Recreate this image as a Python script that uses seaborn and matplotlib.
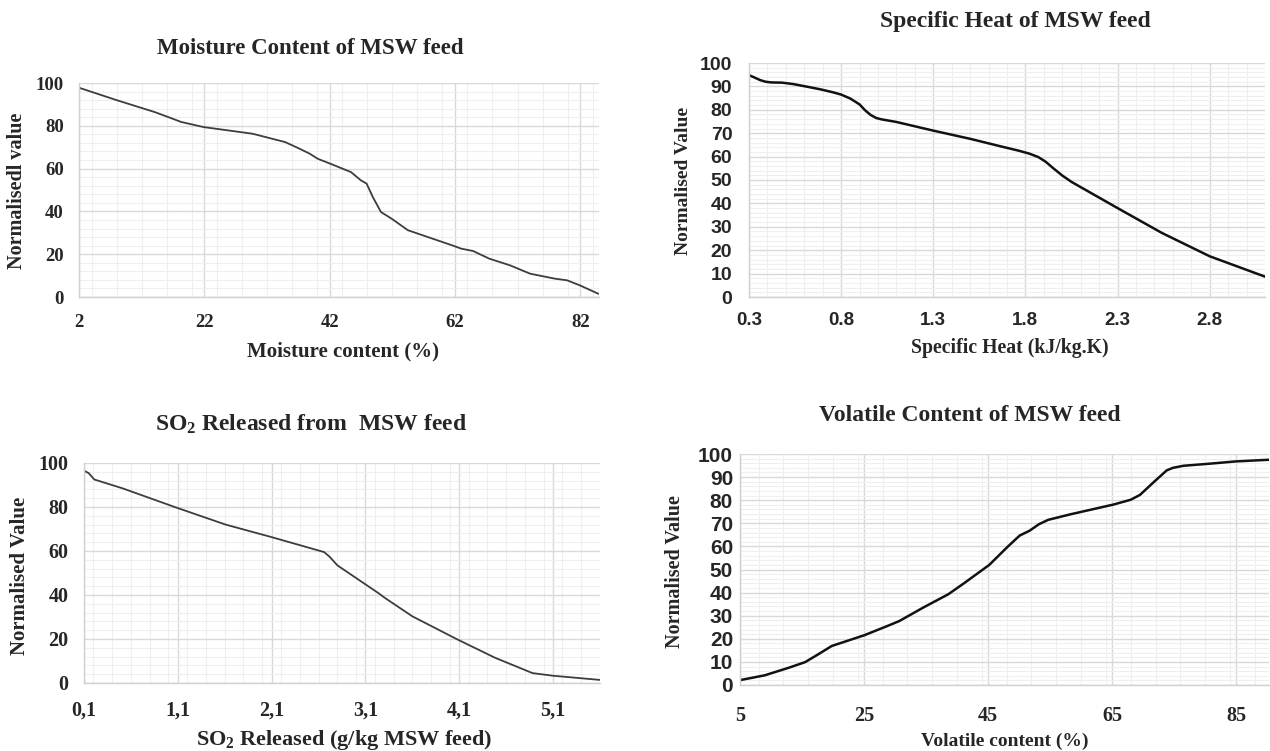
"""
msw_feed_sensitivity.py

Four panels of normalised value against MSW feed properties
(moisture, specific heat, SO2 released, volatile content).
"""

import matplotlib

matplotlib.use("Agg")
import matplotlib.pyplot as plt
import seaborn as sns
from matplotlib.ticker import FixedLocator, MultipleLocator, FuncFormatter

OUTPUT_FILEPATH = "out.png"
FIG_W, FIG_H = 1270, 751

# --- data --------------------------------------------------------------
moisture_x = [2, 8, 14.1, 16.5, 18.3, 21.9, 29.7, 34.9, 37.2, 38.8, 40.1, 42.1,
              45.4, 47.0, 47.9, 48.9, 50.2, 51.9, 54.5, 57.7, 61.6, 63.0, 64.9,
              67.5, 70.8, 74.0, 77.9, 79.9, 81.9, 84.9]
moisture_y = [97.8, 92.0, 86.4, 83.8, 81.8, 79.4, 76.3, 72.4, 69.3, 67.0, 64.6,
              62.3, 58.4, 54.5, 53.0, 46.7, 39.7, 36.6, 31.2, 28.0, 24.1, 22.6,
              21.5, 17.9, 14.8, 10.9, 8.6, 7.8, 5.5, 1.5]

heat_x = [0.30, 0.33, 0.36, 0.39, 0.42, 0.48, 0.54, 0.62, 0.69, 0.76, 0.80,
          0.85, 0.90, 0.93, 0.96, 0.99, 1.02, 1.10, 1.30, 1.50, 1.67, 1.76,
          1.82, 1.87, 1.91, 1.95, 2.00, 2.05, 2.11, 2.30, 2.54, 2.80, 3.10]
heat_y = [94.8, 93.8, 92.7, 92.0, 91.7, 91.6, 91.0, 89.8, 88.7, 87.4, 86.5,
          84.8, 82.3, 79.8, 77.8, 76.5, 75.9, 74.8, 71.1, 67.6, 64.3, 62.6,
          61.3, 59.8, 57.8, 55.1, 51.9, 49.2, 46.5, 38.0, 27.4, 17.4, 8.7]

so2_x = [0.10, 0.15, 0.21, 0.51, 1.08, 1.61, 2.10, 2.66, 2.72, 2.80, 2.98,
         3.24, 3.31, 3.60, 4.08, 4.48, 4.88, 5.10, 5.60]
so2_y = [96.5, 95.4, 92.5, 88.5, 79.8, 72.0, 66.3, 59.5, 57.3, 53.5, 48.3,
         40.8, 38.6, 30.3, 19.8, 11.5, 4.5, 3.3, 1.4]
so2_ticks = [0.1, 1.1, 2.1, 3.1, 4.1, 5.1]

volatile_x = [5, 9.0, 12.9, 15.5, 17.5, 19.8, 21.5, 25.1, 29.0, 30.7, 34.6,
              38.6, 41.2, 45.2, 48.1, 50.1, 51.7, 53.2, 54.7, 58.3, 65.2, 68.0,
              69.5, 71.5, 73.8, 74.8, 76.5, 80.7, 85.0, 90.3]
volatile_y = [2.1, 4.2, 7.5, 9.9, 13.1, 16.9, 18.4, 21.6, 25.8, 27.7, 33.6,
              39.3, 44.2, 52.0, 59.7, 64.7, 66.8, 69.6, 71.5, 73.9, 78.1, 80.2,
              82.3, 87.3, 92.9, 94.0, 94.9, 95.8, 96.8, 97.5]

SERIF = "Liberation Serif"
SANS = "Liberation Sans"

sns.set_style("white")
plt.rcParams["font.family"] = [SERIF, "DejaVu Serif"]
plt.rcParams["font.weight"] = "bold"
plt.rcParams["mathtext.fontset"] = "custom"
plt.rcParams["mathtext.rm"] = "Liberation Serif:bold"
plt.rcParams["mathtext.bf"] = "Liberation Serif:bold"
plt.rcParams["mathtext.it"] = "Liberation Serif:bold"


def px_box(left, right, top, bottom):
    """axes rectangle from pixel edges (origin top-left)"""
    return [left / FIG_W, 1 - bottom / FIG_H, (right - left) / FIG_W, (bottom - top) / FIG_H]


def label(fig, x, y, text, size, rotation=0, family=SERIF):
    fig.text(x / FIG_W, 1 - y / FIG_H, text, ha="center", va="center",
             fontsize=size, fontweight="bold", family=family, rotation=rotation)


def style_axes(ax, xlim, ylim, xminor, ymajor, yminor,
               xfont, yfont, xsize, ysize, xpad, ypad):
    ax.set_xlim(*xlim)
    ax.set_ylim(*ylim)
    ax.xaxis.set_minor_locator(MultipleLocator(xminor))
    ax.yaxis.set_major_locator(MultipleLocator(ymajor))
    ax.yaxis.set_minor_locator(MultipleLocator(yminor))
    ax.grid(True, which="major", color="#d9d9d9", lw=1.0)
    ax.grid(True, which="minor", color="#efefef", lw=0.8)
    ax.set_axisbelow(True)
    for side in ["top", "right"]:
        ax.spines[side].set_visible(False)
    for side in ["left", "bottom"]:
        ax.spines[side].set_color("#d0d0d0")
        ax.spines[side].set_linewidth(1.0)
    ax.tick_params(which="both", length=0)
    ax.tick_params(axis="x", pad=xpad)
    ax.tick_params(axis="y", pad=ypad)
    for t in ax.get_xticklabels():
        t.set_family(xfont)
        t.set_fontsize(xsize)
        t.set_fontweight("bold")
    for t in ax.get_yticklabels():
        t.set_family(yfont)
        t.set_fontsize(ysize)
        t.set_fontweight("bold")
    ax.set_xlabel(None)
    ax.set_ylabel(None)


def main():
    fig = plt.figure(figsize=(FIG_W / 100, FIG_H / 100), dpi=100)

    # Moisture content
    ax1 = fig.add_axes(px_box(79, 599, 83, 297))
    sns.lineplot(x=moisture_x, y=moisture_y, ax=ax1, color="#3d3d3d", lw=1.3, sort=False)
    ax1.xaxis.set_major_locator(FixedLocator([2, 22, 42, 62, 82]))
    style_axes(ax1, (2, 85), (0, 100), 4, 20, 4, SERIF, SERIF, 13.5, 13.5, 12, 11)
    label(fig, 310, 48, "Moisture Content of MSW feed", 16.5)
    label(fig, 343, 351, "Moisture content (%)", 15)
    label(fig, 17, 191, "Normalisedl value", 14.5, rotation=90)

    # Specific heat
    ax2 = fig.add_axes(px_box(749, 1265, 63, 297))
    sns.lineplot(x=heat_x, y=heat_y, ax=ax2, color="#111111", lw=1.8, sort=False)
    ax2.xaxis.set_major_locator(FixedLocator([0.3, 0.8, 1.3, 1.8, 2.3, 2.8]))
    ax2.xaxis.set_major_formatter(FuncFormatter(lambda v, p: f"{v:.1f}"))
    style_axes(ax2, (0.3, 3.1), (0, 100), 0.1, 10, 2, SANS, SANS, 13.5, 14, 11, 12)
    label(fig, 1015, 22, "Specific Heat of MSW feed", 17)
    label(fig, 1010, 348, "Specific Heat (kJ/kg.K)", 14.2)
    label(fig, 683, 181, "Normalised Value", 14, rotation=90)

    # SO2 released
    ax3 = fig.add_axes(px_box(84, 600, 463, 683))
    sns.lineplot(x=so2_x, y=so2_y, ax=ax3, color="#3d3d3d", lw=1.3, sort=False)
    ax3.xaxis.set_major_locator(FixedLocator(so2_ticks))
    ax3.xaxis.set_major_formatter(FuncFormatter(lambda v, p: f"{v:.1f}".replace(".", ",")))
    style_axes(ax3, (0.1, 5.6), (0, 100), 0.2, 20, 4, SERIF, SERIF, 14.5, 14.5, 13, 11)
    label(fig, 311, 424, r"SO$_2$ Released from  MSW feed", 17)
    label(fig, 344, 740, r"SO$_2$ Released (g/kg MSW feed)", 16)
    label(fig, 20, 576, "Normalised Value", 15, rotation=90)

    # Volatile content
    ax4 = fig.add_axes(px_box(740, 1269, 454, 685))
    sns.lineplot(x=volatile_x, y=volatile_y, ax=ax4, color="#111111", lw=1.8, sort=False)
    ax4.xaxis.set_major_locator(FixedLocator([5, 25, 45, 65, 85]))
    style_axes(ax4, (5, 90.3), (0, 100), 4, 10, 2, SERIF, SANS, 14.5, 15, 15, 5)
    label(fig, 970, 416, "Volatile Content of MSW feed", 17)
    label(fig, 1005, 741, "Volatile content (%)", 14)
    label(fig, 675, 572, "Normalised Value", 14.5, rotation=90)

    fig.savefig(OUTPUT_FILEPATH, dpi=100)


if __name__ == "__main__":
    main()
